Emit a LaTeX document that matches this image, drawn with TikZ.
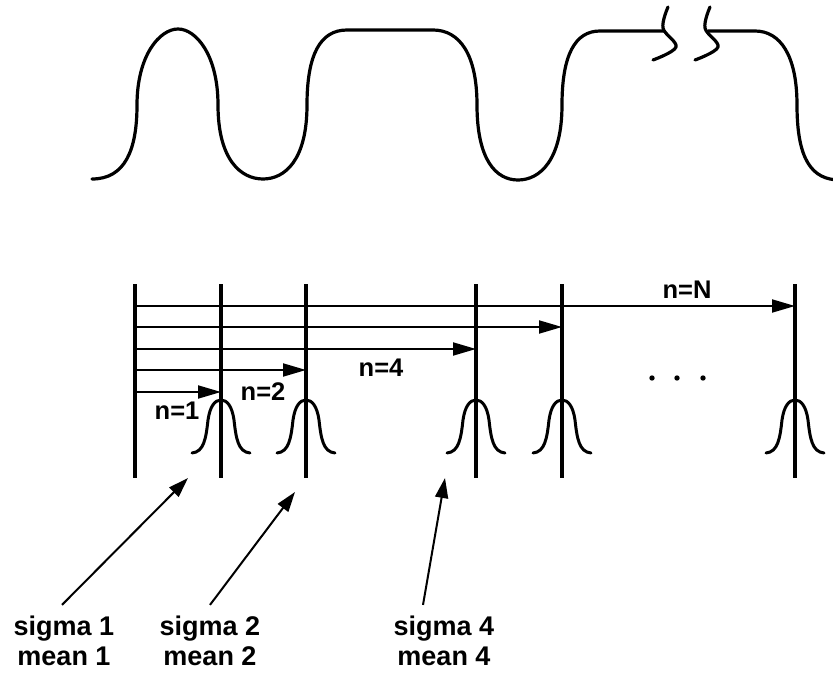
\documentclass[tikz,border=0pt]{standalone}
\usepackage{fontspec}
\setmainfont{Liberation Sans}
\usetikzlibrary{arrows.meta}
\tikzset{
  wave/.style={line width=3.2pt,line cap=round,line join=round},
  tapline/.style={line width=3.2pt},
  delayline/.style={-{Triangle[length=23pt,width=13pt]},line width=2pt},
  bell/.style={line width=3pt,line cap=round},
  pointer/.style={-{Triangle[length=20pt,width=13pt]},line width=2pt},
  nlabel/.style={font=\fontsize{25.5}{30}\selectfont\bfseries,inner sep=1pt},
  plabel/.style={font=\fontsize{27}{30}\selectfont\bfseries,align=center,inner sep=2pt},
}
% bell curve sitting on a tap line, peak at #1
\newcommand{\bellat}[1]{%
  \draw[bell,shift={(#1)}] (-29,53) .. controls (-17,52) and (-15,38) .. (-13,20)
    .. controls (-11,6) and (-6,0) .. (0,0)
    .. controls (6,0) and (11,6) .. (13,20)
    .. controls (15,38) and (17,52) .. (29,53);}

\begin{document}
\begin{tikzpicture}[x=1pt,y=-1pt]
  \useasboundingbox (0,0) rectangle (833,674);

  % input waveform
  \draw[wave] (92,179) .. controls (125,179) and (137,150) .. (137,105)
    .. controls (137,55) and (160,29) .. (178,29)
    .. controls (196,29) and (218,55) .. (218,105)
    .. controls (218,160) and (241,179) .. (263,179)
    .. controls (285,179) and (307,160) .. (307,105)
    .. controls (307,55) and (320,30) .. (347,30) -- (433,30)
    .. controls (460,30) and (477,55) .. (477,105)
    .. controls (477,160) and (496,180) .. (518,180)
    .. controls (540,180) and (562,160) .. (562,105)
    .. controls (562,55) and (575,31) .. (600,31) -- (664,31);
  \draw[wave] plot[smooth,tension=0.6] coordinates {(668,7) (663,28) (676,47) (653,60)};
  \draw[wave] plot[smooth,tension=0.6] coordinates {(710,7) (705,28) (718,47) (695,60)};
  \draw[wave] (708,31) -- (755,31) .. controls (780,31) and (797,55) .. (797,105)
    .. controls (797,160) and (812,180) .. (840,180);

  % tap lines
  \foreach \name/\xx in {v1/135,v2/221,v3/306,v4/476,v5/562,v6/795} {
    \coordinate (\name top) at (\xx,284);
    \coordinate (\name bot) at (\xx,478);
    \draw[tapline] (\name top) -- (\name bot);
  }
  \foreach \name in {v2,v3,v4,v5,v6} {
    \coordinate (\name peak) at (\name top |- 0,400);
    \bellat{\name peak}
  }

  % delays
  \foreach \yy/\tgt in {392/v2,370/v3,349/v4,327/v5,306/v6}
    \draw[delayline] (v1top |- 0,\yy) -- (\tgt top |- 0,\yy);

  \node[nlabel] (n1) at (177,411) {n=1};
  \node[nlabel] (n2) at (263,392) {n=2};
  \node[nlabel] (n4) at (381,368) {n=4};
  \node[nlabel] (nN) at (687,290) {n=N};
  \foreach \xx in {652,677,703}
    \fill (\xx,378) circle (2.7pt);

  % parameter labels
  \node[plabel] (s1) at (64,641) {sigma 1\\mean 1};
  \node[plabel] (s2) at (210,641) {sigma 2\\mean 2};
  \node[plabel] (s4) at (444,641) {sigma 4\\mean 4};
  \coordinate (p1) at (188,478);
  \coordinate (p2) at (295,492);
  \coordinate (p4) at (445,478);
  \draw[pointer] ([xshift=-2pt,yshift=9pt]s1.north) -- (p1);
  \draw[pointer] ([yshift=9pt]s2.north) -- (p2);
  \draw[pointer] ([xshift=-21pt,yshift=9pt]s4.north) -- (p4);
\end{tikzpicture}
\end{document}
